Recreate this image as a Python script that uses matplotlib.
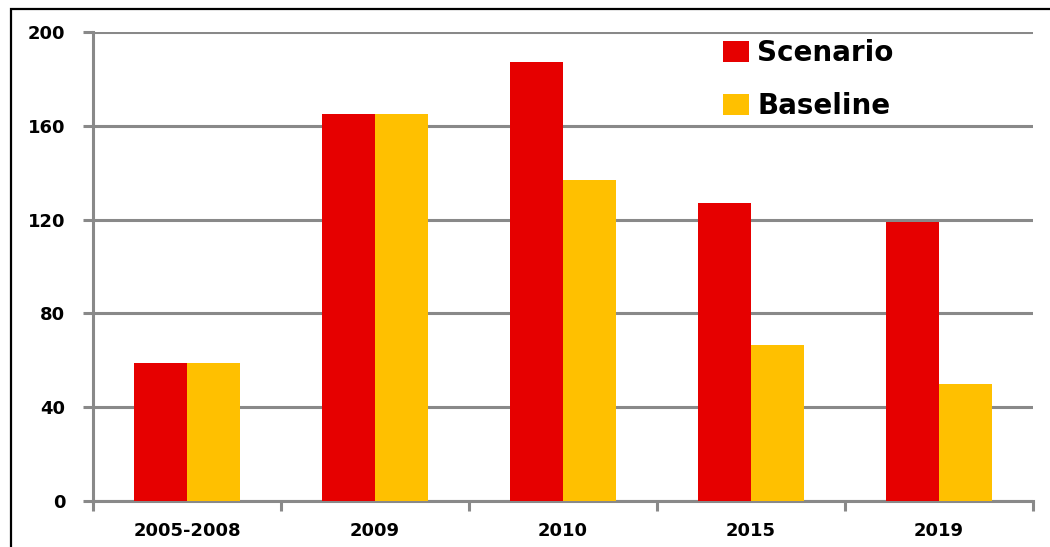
import numpy as np
import matplotlib
matplotlib.use("Agg")
import matplotlib.pyplot as plt
from matplotlib.patches import Rectangle

categories = ["2005-2008", "2009", "2010", "2015", "2019"]
scenario = [59, 165, 187, 127, 119]
baseline = [59, 165, 137, 66.5, 50]
yticks = [0, 40, 80, 120, 160, 200]

red = "#e60000"
gold = "#ffc000"
grey = "#898989"

plt.rcParams["font.family"] = "DejaVu Sans"
plt.rcParams["font.weight"] = "bold"

fig = plt.figure(figsize=(10.5, 5.47), dpi=100)
ax = fig.add_axes([0.0886, 0.0841, 0.8952, 0.8574])

x = np.arange(len(categories))
w = 0.282
ax.bar(x - w / 2, scenario, w, color=red, label="Scenario", zorder=3)
ax.bar(x + w / 2, baseline, w, color=gold, label="Baseline", zorder=3)

ax.set_xlim(-0.5, len(categories) - 0.5)
ax.set_ylim(0, 200)
ax.set_yticks(yticks)
ax.set_yticklabels([str(v) for v in yticks], fontsize=13, fontweight="bold")
ax.yaxis.grid(True, color=grey, linewidth=2.2, zorder=0)
ax.tick_params(axis="y", length=7, width=2.2, color=grey, pad=13)

# category labels in the middle, ticks on the boundaries
ax.set_xticks(x)
ax.set_xticklabels(categories, fontsize=13, fontweight="bold")
ax.set_xticks(np.arange(len(categories) + 1) - 0.5, minor=True)
ax.tick_params(axis="x", which="major", length=0, pad=15)
ax.tick_params(axis="x", which="minor", length=7, width=2.2, color=grey)

for side in ["top", "right"]:
    ax.spines[side].set_visible(False)
for side in ["left", "bottom"]:
    ax.spines[side].set_color(grey)
    ax.spines[side].set_linewidth(2.2)
ax.set_axisbelow(True)

leg = ax.legend(loc="upper left", bbox_to_anchor=(0.649, 1.027), frameon=False,
                prop={"size": 20, "weight": "bold"}, handlelength=0.95,
                handleheight=0.8, handletextpad=0.3, labelspacing=0.92,
                borderaxespad=0.3)

# outer frame around the chart area
fig.patches.append(Rectangle((11 / 1050, -0.1), 1.2, 1.1 - 9 / 547,
                             transform=fig.transFigure, fill=False,
                             edgecolor="black", linewidth=1.6))

fig.savefig("out.png", dpi=100)
